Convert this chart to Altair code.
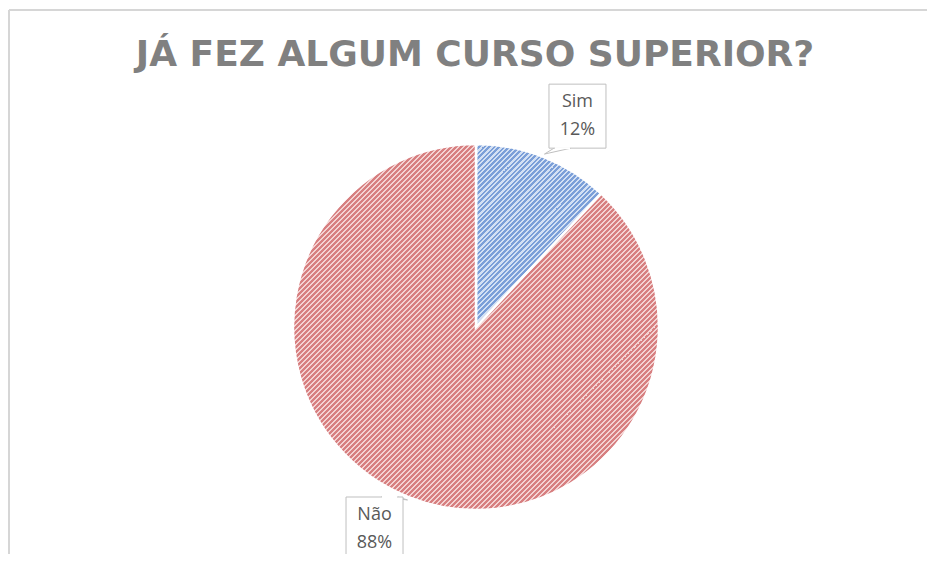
import math
import altair as alt
import pandas as pd

# ---- data ----
labels = ["Sim", "Não"]
values = [12, 88]
pct_labels = ["12%", "88%"]
title_text = "JÁ FEZ ALGUM CURSO SUPERIOR?"

# ---- layout / style constants ----
W, H = 918, 544
CX, CY, R = 467, 317, 183
LABEL_R = 234
LABEL_OFF = math.radians(4.1)
BOX_W, BOX_H = 57, 64
dark = {"Sim": "#7b9fd8", "Não": "#d77f80"}
light = {"Sim": "#d3e0f4", "Não": "#f4d3d3"}
PERIOD = 5 / math.sqrt(2)  # stripe period (perpendicular) -> exactly 5px horizontally

total = float(sum(values))
rows = []
acc = 0.0
for lab, v, p in zip(labels, values, pct_labels):
    t0 = acc / total * 2 * math.pi
    acc += v
    t1 = acc / total * 2 * math.pi
    rows.append({"label": lab, "value": v, "pct": p, "t0": t0, "t1": t1})
slices = pd.DataFrame(rows)


def arc_bbox(t0, t1):
    pts = [(CX, CY), (CX + R * math.sin(t0), CY - R * math.cos(t0)),
           (CX + R * math.sin(t1), CY - R * math.cos(t1))]
    for k in range(0, 5):
        a = k * math.pi / 2
        if t0 <= a <= t1:
            pts.append((CX + R * math.sin(a), CY - R * math.cos(a)))
    xs = [q[0] for q in pts]
    ys = [q[1] for q in pts]
    return max(xs) - min(xs), max(ys) - min(ys)


def stripe_fill(lab, t0, t1):
    w, h = arc_bbox(t0, t1)
    r = w / h
    k = (r + 1) / (r * r + 1)
    span = (w + h) / math.sqrt(2)
    P = PERIOD / span
    stops = []
    i = 0
    while i * P < 1:
        a = i * P
        b = min(a + P / 2, 1.0)
        c = min(a + P, 1.0)
        stops += [
            {"offset": round(a, 6), "color": dark[lab]},
            {"offset": round(b, 6), "color": dark[lab]},
            {"offset": round(b, 6), "color": light[lab]},
            {"offset": round(c, 6), "color": light[lab]},
        ]
        i += 1
    return {"gradient": "linear", "x1": 0, "y1": 0,
            "x2": round(r * k, 6), "y2": round(k, 6), "stops": stops}


base = alt.Chart(slices)
arcs = []
for _, row in slices.iterrows():
    arcs.append(
        base.transform_filter(alt.datum.label == row["label"])
        .mark_arc(radius=R, fill=stripe_fill(row["label"], row["t0"], row["t1"]),
                  stroke="white", strokeWidth=2.5)
        .encode(
            x=alt.value(CX), y=alt.value(CY),
            theta=alt.Theta("t0:Q", scale=None),
            theta2="t1:Q",
        )
    )

# ---- callout label geometry derived from the slices ----
boxes, texts, tails, gaps = [], [], [], []
for _, row in slices.iterrows():
    mid = (row["t0"] + row["t1"]) / 2
    ang = mid + LABEL_OFF
    bx = CX + LABEL_R * math.sin(ang)
    by = CY - LABEL_R * math.cos(ang)
    by = min(by, H - 11 - 14)  # keep the second line inside the page
    tipx = CX + (R + 3) * math.sin(mid)
    tipy = CY - (R + 3) * math.cos(mid)
    boxes.append({"label": row["label"], "x0": bx - BOX_W / 2, "x1": bx + BOX_W / 2,
                  "y0": by - BOX_H / 2, "y1": by + BOX_H / 2})
    texts.append({"label": row["label"], "t": row["label"], "x": bx, "y": by - 14})
    texts.append({"label": row["label"], "t": row["pct"], "x": bx, "y": by + 14})
    ey = by + BOX_H / 2 if tipy > by else by - BOX_H / 2
    if tipx < bx:
        xa, xb = bx - BOX_W / 2 + 5, bx - BOX_W / 2 + 22
    else:
        xa, xb = bx + BOX_W / 2 - 22, bx + BOX_W / 2 - 5
    tails += [
        {"label": row["label"], "o": 0, "x": xa, "y": ey},
        {"label": row["label"], "o": 1, "x": tipx, "y": tipy},
        {"label": row["label"], "o": 2, "x": xb, "y": ey},
    ]
    gaps.append({"label": row["label"], "x0": xa + 1, "x1": xb - 1, "y": ey})

boxes = pd.DataFrame(boxes)
texts = pd.DataFrame(texts)
tails = pd.DataFrame(tails)
gaps = pd.DataFrame(gaps)

box_layer = alt.Chart(boxes).mark_rect(fill="white", stroke="#bfbfbf", strokeWidth=1).encode(
    x=alt.X("x0:Q", scale=None), x2="x1:Q",
    y=alt.Y("y0:Q", scale=None), y2="y1:Q",
)
gap_layer = alt.Chart(gaps).mark_rule(stroke="white", strokeWidth=2).encode(
    x=alt.X("x0:Q", scale=None), x2="x1:Q", y=alt.Y("y:Q", scale=None)
)
tail_layer = alt.Chart(tails).mark_line(stroke="#bfbfbf", strokeWidth=1).encode(
    x=alt.X("x:Q", scale=None), y=alt.Y("y:Q", scale=None),
    detail="label:N", order="o:Q",
)
text_layer = alt.Chart(texts).mark_text(
    font="Open Sans", fontSize=18, color="#595959", align="center", baseline="middle"
).encode(
    x=alt.X("x:Q", scale=None), y=alt.Y("y:Q", scale=None), text="t:N"
)

title_layer = alt.Chart(pd.DataFrame({"t": [title_text]})).mark_text(
    font="DejaVu Sans", fontWeight="bold", fontSize=36, color="#808080",
    align="center", baseline="alphabetic"
).encode(x=alt.value(466), y=alt.value(56), text="t:N")

border_left = alt.Chart(pd.DataFrame({"a": [0]})).mark_rule(color="#d6d6d6", strokeWidth=2).encode(
    x=alt.value(0), y=alt.value(0), y2=alt.value(H)
)
border_top = alt.Chart(pd.DataFrame({"a": [0]})).mark_rule(color="#d6d6d6", strokeWidth=2).encode(
    x=alt.value(0), x2=alt.value(W), y=alt.value(0)
)

chart = alt.layer(
    border_left, border_top, *arcs, tail_layer, box_layer, gap_layer, text_layer, title_layer
).properties(
    width=W, height=H,
    padding={"left": 1, "top": 2, "right": 0, "bottom": 0},
    autosize="none",
    background="white",
).configure_view(stroke=None)

chart.save("out.html", embed_options={"renderer": "svg", "actions": False})
